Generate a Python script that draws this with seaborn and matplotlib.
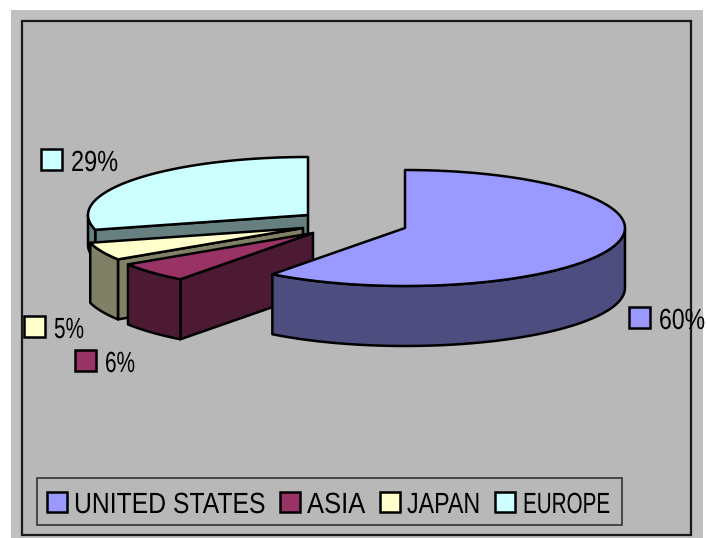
import numpy as np
import matplotlib
matplotlib.use("Agg")
import matplotlib.pyplot as plt
from matplotlib.patches import Polygon, Rectangle
from matplotlib.patheffects import AbstractPathEffect
from matplotlib.transforms import Affine2D
import seaborn as sns

regions = ["UNITED STATES", "ASIA", "JAPAN", "EUROPE"]
# unrounded shares, labels show them rounded
shares = [60.3, 5.6, 5.0, 29.1]
share_labels = ["60%", "6%", "5%", "29%"]
top_colors = ["#9999FF", "#993366", "#FFFFCC", "#CCFFFF"]

# layout, in pixels of the 707x538 picture
apex_x = [405, 313, 303, 308]
apex_y = [228, 233, 228, 215]
depths = [60, 60, 60, 30]
label_box_x = [629, 75, 24, 41]
label_box_y = [307, 350, 316, 149]
label_widths = [46, 30, 30, 47]
legend_box_x = [47, 280, 380, 495]
legend_text_x = [74, 307, 407, 523]
legend_text_w = [191, 58, 73, 87]
RX, RY = 220, 58

sns.set_theme(style="white")
plt.rcParams["font.family"] = ["Liberation Sans", "DejaVu Sans"]
palette = sns.color_palette(top_colors)

fig = plt.figure(figsize=(7.07, 5.38), dpi=100, facecolor="white")
ax = fig.add_axes([0, 0, 1, 1])
ax.set_xlim(0, 707)
ax.set_ylim(538, 0)
ax.axis("off")

ax.add_patch(Rectangle((11, 10), 692, 530, fc="#C0C0C0", ec="none", zorder=0))
ax.add_patch(Rectangle((22, 21), 669, 514, fc="#B8B8B8", ec="#1A1A1A", lw=1.6, zorder=1))


class Squeeze(AbstractPathEffect):
    # the original uses a condensed face, so narrow the glyphs around the text start
    def __init__(self, sx):
        super().__init__()
        self.sx = sx

    def draw_path(self, renderer, gc, tpath, affine, rgbFace=None):
        x0 = affine.get_matrix()[0, 2]
        narrow = affine + Affine2D().translate(-x0, 0).scale(self.sx, 1).translate(x0, 0)
        renderer.draw_path(gc, tpath, narrow, rgbFace)


def squeezed_text(x, y, s, width, size=21):
    t = ax.text(x, y, s, fontsize=size, color="black", va="center_baseline", ha="left", zorder=12)
    full = t.get_window_extent(fig.canvas.get_renderer()).width
    t.set_path_effects([Squeeze(width / full)])
    return t


def rim(cx, cy, a0, a1):
    t = np.radians(np.linspace(a0, a1, 80))
    return np.column_stack([cx + RX * np.cos(t), cy - RY * np.sin(t)])


def draw_slice(cx, cy, a0, a1, color, depth, z):
    # a0 > a1, both in degrees, going clockwise from the top
    dark = tuple(c * 0.5 for c in color)
    style = dict(ec="black", lw=1.8, joinstyle="round", zorder=z)
    pts = rim(cx, cy, a0, a1)
    down = np.array([0, depth])

    # cut face below the leading edge, only seen when that edge runs towards the viewer
    start = pts[0]
    if start[1] > cy:
        apex = np.array([cx, cy])
        ax.add_patch(Polygon([apex, start, start + down, apex + down], fc=dark, **style))

    # outer wall, only the part of the rim that faces the viewer
    front = pts[pts[:, 1] >= cy]
    if len(front) > 1:
        wall = np.vstack([front, (front + down)[::-1]])
        ax.add_patch(Polygon(wall, fc=dark, **style))

    ax.add_patch(Polygon(np.vstack([[cx, cy], pts]), fc=color, **style))


angle = 90.0
slices = []
for i, share in enumerate(shares):
    sweep = share / sum(shares) * 360
    slices.append((i, angle, angle - sweep))
    angle -= sweep

# back slices first, United States last because it sits in front
for z, i in enumerate([3, 2, 1, 0]):
    _, a0, a1 = slices[i]
    draw_slice(apex_x[i], apex_y[i], a0, a1, palette[i], depths[i], 5 + z)

for i in range(len(regions)):
    ax.add_patch(Rectangle((label_box_x[i], label_box_y[i]), 21, 21, fc=palette[i],
                           ec="black", lw=1.8, zorder=12))
    squeezed_text(label_box_x[i] + 30, label_box_y[i] + 11, share_labels[i], label_widths[i])

# legend
ax.add_patch(Rectangle((37, 478), 585, 47, fc="#B8B8B8", ec="#333333", lw=1.2, zorder=11))
for i, region in enumerate(regions):
    ax.add_patch(Rectangle((legend_box_x[i], 492), 20, 20, fc=palette[i], ec="black", lw=1.8, zorder=12))
    squeezed_text(legend_text_x[i], 502, region, legend_text_w[i])

fig.savefig("out.png", dpi=100, facecolor="white")
